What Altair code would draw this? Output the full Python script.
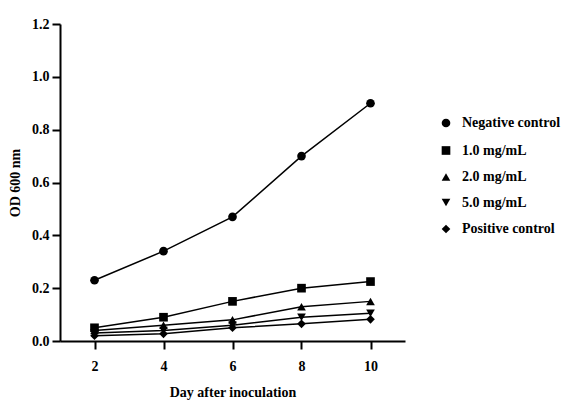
import altair as alt
import pandas as pd

days = [2, 4, 6, 8, 10]
series_names = ["Negative control", "1.0 mg/mL", "2.0 mg/mL", "5.0 mg/mL", "Positive control"]
neg_control = [0.23, 0.34, 0.47, 0.70, 0.90]
mg_1 = [0.05, 0.09, 0.15, 0.20, 0.225]
mg_2 = [0.04, 0.06, 0.08, 0.13, 0.15]
mg_5 = [0.03, 0.04, 0.06, 0.09, 0.105]
pos_control = [0.02, 0.027, 0.05, 0.065, 0.082]
shapes = ["circle", "square", "triangle-up", "triangle-down", "diamond"]

rows = []
for name, vals in zip(series_names, [neg_control, mg_1, mg_2, mg_5, pos_control]):
    for d, v in zip(days, vals):
        rows.append({"day": d, "od": v, "series": name})
df = pd.DataFrame(rows)

FONT = "Liberation Serif"

x = alt.X("day:Q", scale=alt.Scale(domain=[1, 11], nice=False),
          axis=alt.Axis(values=days, title="Day after inoculation", format="d"))
y = alt.Y("od:Q", scale=alt.Scale(domain=[0, 1.2], nice=False),
          axis=alt.Axis(values=[0, 0.2, 0.4, 0.6, 0.8, 1.0, 1.2], format=".1f", title="OD 600 nm"))

lines = alt.Chart(df).mark_line(color="black", strokeWidth=1.5).encode(
    x=x, y=y, detail="series:N")

points = alt.Chart(df).mark_point(filled=True, color="black", size=75, opacity=1).encode(
    x=x, y=y,
    shape=alt.Shape("series:N", sort=series_names,
                    scale=alt.Scale(domain=series_names, range=shapes),
                    legend=alt.Legend(title=None, orient="none", legendX=379, legendY=92,
                                      symbolFillColor="black", symbolStrokeColor="black",
                                      symbolSize=75, labelFont=FONT, labelFontSize=14,
                                      labelFontWeight="bold", labelColor="black",
                                      rowPadding=11.5, labelOffset=9)))

chart = alt.layer(lines, points).properties(
    width=345, height=317,
    autosize=alt.AutoSizeParams(type="none"),
    padding={"left": 60, "top": 24, "right": 161, "bottom": 63},
    background="white",
).configure_view(stroke=None).configure_axis(
    grid=False, domainColor="black", domainWidth=2, tickColor="black", tickWidth=2,
    tickSize=8, labelFont=FONT, labelFontSize=14, labelFontWeight="bold", labelColor="black",
    titleFont=FONT, titleFontSize=14, titleFontWeight="bold", titleColor="black",
).configure_axisX(labelPadding=10, titlePadding=12).configure_axisY(labelPadding=3, titlePadding=9)

chart.save("out.html", embed_options={"renderer": "svg", "actions": False})
